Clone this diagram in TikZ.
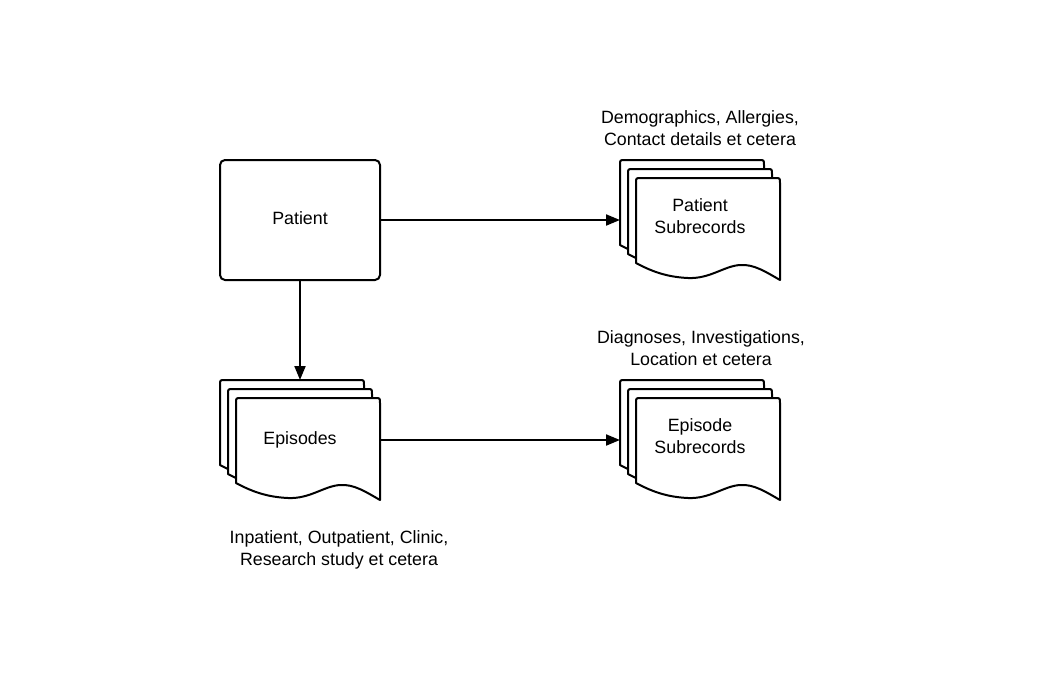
\documentclass[tikz,border=0pt]{standalone}
\usepackage{fontspec}
\setmainfont{Liberation Sans}
\usetikzlibrary{arrows.meta}
\tikzset{
  sheetline/.style={draw=black, line width=2pt, fill=white, line join=round},
  patientbox/.style={draw=black, line width=2pt, fill=white, rounded corners=5pt,
    minimum width=160pt, minimum height=120pt, inner sep=0pt, outer sep=0pt},
  stackarea/.style={minimum width=160pt, minimum height=120pt, inner sep=0pt, outer sep=0pt},
  lbl/.style={font=\fontsize{17.8pt}{21.3pt}\selectfont, align=center, anchor=base, inner sep=0pt},
  conn/.style={line width=2pt, -{Triangle[length=14pt,width=11pt]}},
}
\newcommand\docsheet[2]{%
  \draw[sheetline] (#1,#2+85) -- (#1,#2+5) .. controls (#1,#2) .. (#1+5,#2)
    -- (#1+139,#2) .. controls (#1+144,#2) .. (#1+144,#2+5)
    -- (#1+144,#2+102)
    .. controls (#1+130,#2+94) and (#1+118,#2+86) .. (#1+104,#2+87)
    .. controls (#1+88,#2+88) and (#1+74,#2+101) .. (#1+52,#2+100)
    .. controls (#1+30,#2+99) and (#1+15,#2+93) .. (#1,#2+85) -- cycle;}
\newcommand\docstack[3]{%
  \node[stackarea] (#1) at (#2+80,#3+60) {};
  \docsheet{#2}{#3}%
  \docsheet{#2+8}{#3+9}%
  \docsheet{#2+16}{#3+18}}
\begin{document}
\begin{tikzpicture}[x=1pt,y=-1pt]
  \useasboundingbox[fill=white] (0,0) rectangle (1049,685);
  \node[patientbox] (patient) at (300,220) {};
  \docstack{ps}{620}{160}
  \docstack{ep}{220}{380}
  \docstack{es}{620}{380}
  \node[lbl] (patienttext) at (300,224) {Patient};
  \node[lbl] (pstext) at (700,233) {Patient\\Subrecords};
  \node[lbl] (eptext) at (300,444) {Episodes};
  \node[lbl] (estext) at (700,453) {Episode\\Subrecords};
  \node[lbl] (psnote) at (700,145) {Demographics, Allergies,\\Contact details et cetera};
  \node[lbl] (esnote) at (701,365) {Diagnoses, Investigations,\\Location et cetera};
  \node[lbl] (epnote) at (339,565) {Inpatient, Outpatient, Clinic,\\Research study et cetera};
  \draw[conn] (patient) -- (ps);
  \draw[conn] (patient) -- (ep);
  \draw[conn] (ep) -- (es);
\end{tikzpicture}
\end{document}
